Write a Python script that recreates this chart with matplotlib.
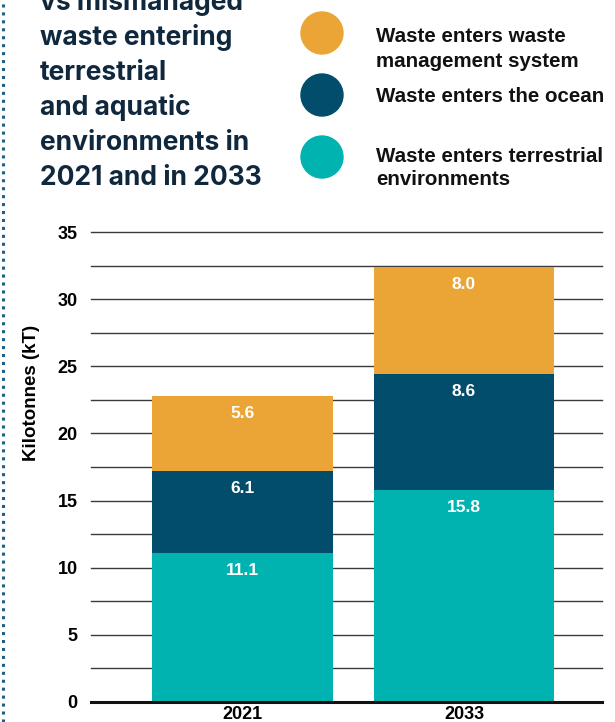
import matplotlib
matplotlib.use("Agg")
import matplotlib.pyplot as plt
from matplotlib.patches import Circle
from matplotlib.lines import Line2D
import numpy as np

YEARS = ["2021", "2033"]
TERRESTRIAL = [11.1, 15.8]
OCEAN = [6.1, 8.6]
MANAGED = [5.6, 8.0]

SERIES_LABELS = [
    "Waste enters waste\nmanagement system",
    "Waste enters the ocean",
    "Waste enters terrestrial\nenvironments",
]
TITLE_LINES = [
    "vs mismanaged",
    "waste entering",
    "terrestrial",
    "and aquatic",
    "environments in",
    "2021 and in 2033",
]

ORANGE = "#EBA537"
NAVY = "#024D6B"
TEAL = "#00B3B0"
TITLE_COLOR = "#10283d"

W, H = 615, 722
fig = plt.figure(figsize=(W / 100, H / 100), dpi=100)


def fx(px):
    return px / W


def fy(py):
    return 1 - py / H


# dotted rule down the left edge
fig.add_artist(Line2D([fx(3), fx(3)], [0, 1], transform=fig.transFigure,
                      color="#1f5f80", linestyle=(0, (1, 1.6)), linewidth=2.2))

# heading, top line runs off the page
for i, line in enumerate(TITLE_LINES):
    fig.text(fx(40), fy(10 + 35 * i), line, family="Inter", weight="bold",
             fontsize=19, color=TITLE_COLOR, va="baseline", ha="left")

# legend with filled circles
legend_y = [33, 95, 157]
legend_colors = [ORANGE, NAVY, TEAL]
text_y = [49, 97, 168]
spacing = [1.42, 1.2, 1.3]
for cy, col, ty, ls, lab in zip(legend_y, legend_colors, text_y, spacing, SERIES_LABELS):
    fig.add_artist(Circle((322, H - cy), 21, transform=None, color=col))
    fig.text(fx(376), fy(ty), lab, family="Liberation Sans", weight="bold",
             fontsize=14.8, color="#111111", va="center", ha="left",
             linespacing=ls)

ax = fig.add_axes([fx(91), fy(702), fx(602) - fx(91), fy(232) - fy(702)])
x = np.arange(len(YEARS))
width = 0.817

for yv in np.arange(2.5, 35.1, 2.5):
    ax.axhline(yv, color="#3a3a3a", linewidth=1.0, zorder=0, clip_on=False)
ax.axhline(0, color="#111111", linewidth=2.2, zorder=3, clip_on=False)

bottom = np.zeros(len(YEARS))
for vals, col in [(TERRESTRIAL, TEAL), (OCEAN, NAVY), (MANAGED, ORANGE)]:
    vals = np.array(vals)
    ax.bar(x, vals, width, bottom=bottom, color=col, zorder=2)
    for xi, b, v in zip(x, bottom, vals):
        ax.text(xi, b + v - 1.3, f"{v:.1f}", ha="center", va="center",
                color="white", fontsize=12.5, weight="bold",
                family="Liberation Sans", zorder=4)
    bottom += vals

ax.set_xlim(-0.684, 1.623)
ax.set_ylim(0, 35)
ax.set_yticks(np.arange(0, 36, 5))
ax.set_yticklabels([str(v) for v in range(0, 36, 5)],
                   family="Liberation Sans", weight="bold", fontsize=13)
ax.set_xticks(x)
ax.set_xticklabels(YEARS, family="Liberation Sans", weight="bold", fontsize=13)
ax.tick_params(axis="both", length=0)
ax.tick_params(axis="y", pad=9.5)
ax.tick_params(axis="x", pad=3)
for s in ax.spines.values():
    s.set_visible(False)

fig.text(fx(31), fy(393), "Kilotonnes (kT)", rotation=90, ha="center",
         va="center", family="Liberation Sans", weight="bold", fontsize=13.5)

fig.savefig("out.png", dpi=100)
